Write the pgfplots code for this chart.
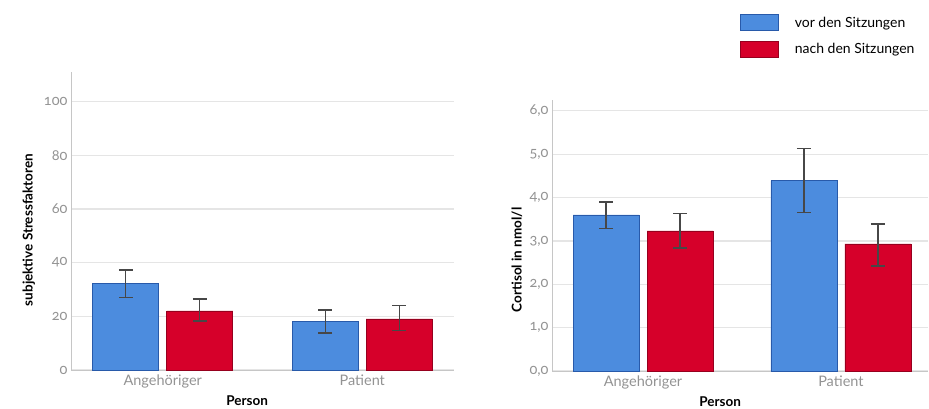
\documentclass[border=0pt]{standalone}
\usepackage{fontspec}
\setmainfont{Lato}[Numbers=OldStyle]
\usepackage{pgfplots}
\pgfplotsset{compat=1.18}
\definecolor{cblue}{RGB}{76,140,222}
\definecolor{cblueedge}{RGB}{40,90,170}
\definecolor{cred}{RGB}{214,0,42}
\definecolor{credge}{RGB}{150,0,30}
\pgfplotsset{mystyle/.style={
  scale only axis, ybar, ymin=0, xmin=-0.46,
  axis x line*=bottom, axis y line*=left,
  axis line style={-, draw=gray!45, line width=1pt},
  ymajorgrids, grid style={gray!20, line width=1.2pt},
  major tick length=0pt,
  xtick={0,1}, xticklabels={Angehöriger,Patient},
  tick label style={text=gray!85, font=\fontsize{14.5}{14.5}\selectfont},
  xticklabel style={anchor=base, yshift=-15pt},
  /pgf/number format/assume math mode=true,
  label style={font=\bfseries\fontsize{13.5}{13.5}\selectfont},
  bar width=66pt,
  error bars/y dir=both, error bars/y explicit,
  error bars/error bar style={black!72, line width=1.3pt},
  error bars/error mark options={rotate=90, mark size=7pt, line width=1.3pt, black!72},
  legend image code/.code={\draw[#1] (0pt,-8pt) rectangle (38pt,8pt);},
}}
\pgfplotstableread{
x y ep em
0 32.3 5.0 5.2
1 18.2 4.2 4.4
}\leftblue
\pgfplotstableread{
x y ep em
0 22.0 4.5 3.7
1 19.0 4.9 4.4
}\leftred
\pgfplotstableread{
x y ep em
0 3.60 0.30 0.32
1 4.39 0.74 0.74
}\rightblue
\pgfplotstableread{
x y ep em
0 3.23 0.40 0.39
1 2.93 0.46 0.51
}\rightred
\begin{document}
\begin{tikzpicture}
\path[use as bounding box] (0pt,0pt) rectangle (929pt,408pt);
\begin{axis}[mystyle,
  at={(71pt,38pt)}, anchor=south west,
  width=383pt, height=298pt,
  xmax=1.46, ymax=111,
  ytick={0,20,...,100},
  ylabel={subjektive Stressfaktoren},
  ylabel style={at={(axis description cs:-0.11,0.47)}, anchor=center, rotate=0},
  xlabel={Person},
  xlabel style={at={(axis description cs:0.46,0)}, anchor=base, yshift=-35pt},
]
\addplot[fill=cblue, draw=cblueedge, line width=0.6pt, bar shift=-37pt,
  error bars/y explicit, error bars/y dir=both]
  table[x=x, y=y, y error plus=ep, y error minus=em] {\leftblue};
\addplot[fill=cred, draw=credge, line width=0.6pt, bar shift=37pt,
  error bars/y explicit, error bars/y dir=both]
  table[x=x, y=y, y error plus=ep, y error minus=em] {\leftred};
\end{axis}
\begin{axis}[mystyle,
  at={(552pt,37pt)}, anchor=south west,
  width=376pt, height=271pt,
  xmax=1.44, ymax=6.25,
  ytick={0,1,...,6},
  yticklabel style={/pgf/number format/.cd, fixed, fixed zerofill, precision=1, use comma},
  ylabel={Cortisol in nmol/l},
  ylabel style={at={(axis description cs:-0.093,0.41)}, anchor=center, rotate=0},
  xlabel={Person},
  xlabel style={at={(axis description cs:0.447,0)}, anchor=base, yshift=-35pt},
  legend style={at={(axis description cs:0.5,1.317)}, anchor=north west,
    draw=none, fill=none, inner sep=0pt, row sep=10pt,
    font=\fontsize{14}{14}\selectfont, legend cell align=left,
    /tikz/every odd column/.style={column sep=14pt}},
]
\addplot[fill=cblue, draw=cblueedge, line width=0.6pt, bar shift=-37pt,
  error bars/y explicit, error bars/y dir=both]
  table[x=x, y=y, y error plus=ep, y error minus=em] {\rightblue};
\addlegendentry{vor den Sitzungen}
\addplot[fill=cred, draw=credge, line width=0.6pt, bar shift=37pt,
  error bars/y explicit, error bars/y dir=both]
  table[x=x, y=y, y error plus=ep, y error minus=em] {\rightred};
\addlegendentry{nach den Sitzungen}
\end{axis}
\end{tikzpicture}
\end{document}
